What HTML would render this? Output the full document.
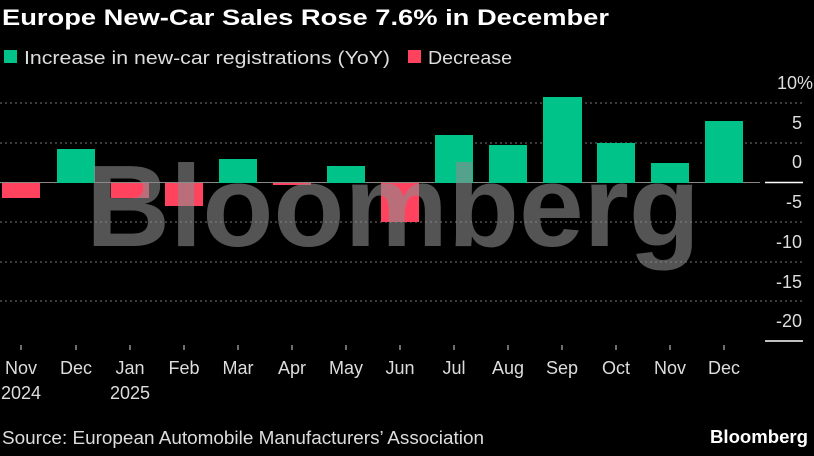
<!DOCTYPE html>
<html><head><style>
body{margin:0;background:#000;width:814px;height:451px;overflow:hidden;font-family:"Liberation Sans",sans-serif;}
</style></head><body>
<svg width="814" height="451" xmlns="http://www.w3.org/2000/svg" font-family="Liberation Sans, sans-serif">
<rect width="814" height="451" fill="#000"/>
<text x="2" y="25" fill="#fff" font-size="22" font-weight="bold" textLength="607" lengthAdjust="spacingAndGlyphs">Europe New-Car Sales Rose 7.6% in December</text>
<rect x="4" y="50" width="13" height="13" fill="#00c389"/>
<text x="24" y="64" fill="#ddd" font-size="18" textLength="366" lengthAdjust="spacingAndGlyphs">Increase in new-car registrations (YoY)</text>
<rect x="408" y="50" width="13" height="13" fill="#ff435f"/>
<text x="428" y="64" fill="#ddd" font-size="18" textLength="84" lengthAdjust="spacingAndGlyphs">Decrease</text>
<g stroke="#777" stroke-dasharray="2,3" stroke-width="1">
<line x1="0" x2="805" y1="103" y2="103"/><line x1="0" x2="805" y1="143" y2="143"/>
<line x1="0" x2="805" y1="222" y2="222"/><line x1="0" x2="805" y1="262" y2="262"/>
<line x1="0" x2="805" y1="301" y2="301"/>
</g>
<line x1="0" x2="760" y1="182.5" y2="182.5" stroke="#888" stroke-width="1"/>
<line x1="765" x2="803" y1="182.5" y2="182.5" stroke="#fff" stroke-width="1.5"/>
<line x1="765" x2="803" y1="341" y2="341" stroke="#fff" stroke-width="1.5"/>
<g fill="#00c389">
<rect x="57" y="149" width="38" height="34"/><rect x="219" y="159" width="38" height="24"/>
<rect x="327" y="166" width="38" height="17"/><rect x="435" y="135" width="38" height="48"/>
<rect x="489" y="145" width="38" height="38"/><rect x="543" y="97" width="39" height="86"/>
<rect x="597" y="143" width="38" height="40"/><rect x="651" y="163" width="38" height="20"/>
<rect x="705" y="121" width="38" height="62"/>
</g>
<g fill="#ff435f">
<rect x="2" y="183" width="38" height="15"/><rect x="111" y="183" width="38" height="15"/>
<rect x="165" y="183" width="38" height="23"/><rect x="273" y="183" width="38" height="2"/>
<rect x="381" y="183" width="38" height="39"/>
</g>
<text x="86" y="246" fill="rgba(140,140,140,0.6)" font-size="116" font-weight="bold" textLength="614" lengthAdjust="spacingAndGlyphs">Bloomberg</text>
<g fill="#ddd" font-size="18" text-anchor="end">
<text x="813" y="89">10%</text><text x="802" y="129">5</text><text x="802" y="168">0</text>
<text x="802" y="208">-5</text><text x="802" y="248">-10</text><text x="802" y="288">-15</text><text x="802" y="327">-20</text>
</g>
<g stroke="#ddd" stroke-width="1">
<line x1="21" x2="21" y1="345" y2="350"/><line x1="76" x2="76" y1="345" y2="350"/><line x1="130" x2="130" y1="345" y2="350"/>
<line x1="184" x2="184" y1="345" y2="350"/><line x1="238" x2="238" y1="345" y2="350"/><line x1="292" x2="292" y1="345" y2="350"/>
<line x1="346" x2="346" y1="345" y2="350"/><line x1="400" x2="400" y1="345" y2="350"/><line x1="454" x2="454" y1="345" y2="350"/>
<line x1="508" x2="508" y1="345" y2="350"/><line x1="562" x2="562" y1="345" y2="350"/><line x1="616" x2="616" y1="345" y2="350"/>
<line x1="670" x2="670" y1="345" y2="350"/><line x1="724" x2="724" y1="345" y2="350"/>
</g>
<g fill="#ddd" font-size="18" text-anchor="middle">
<text x="21" y="374">Nov</text><text x="76" y="374">Dec</text><text x="130" y="374">Jan</text><text x="184" y="374">Feb</text>
<text x="238" y="374">Mar</text><text x="292" y="374">Apr</text><text x="346" y="374">May</text><text x="400" y="374">Jun</text>
<text x="454" y="374">Jul</text><text x="508" y="374">Aug</text><text x="562" y="374">Sep</text><text x="616" y="374">Oct</text>
<text x="670" y="374">Nov</text><text x="724" y="374">Dec</text>
<text x="21" y="399">2024</text><text x="130" y="399">2025</text>
</g>
<text x="2" y="444" fill="#ddd" font-size="18" textLength="482" lengthAdjust="spacingAndGlyphs">Source: European Automobile Manufacturers’ Association</text>
<text x="808" y="443" fill="#fff" font-size="18" font-weight="bold" text-anchor="end" textLength="98" lengthAdjust="spacingAndGlyphs">Bloomberg</text>
</svg>
</body></html>
